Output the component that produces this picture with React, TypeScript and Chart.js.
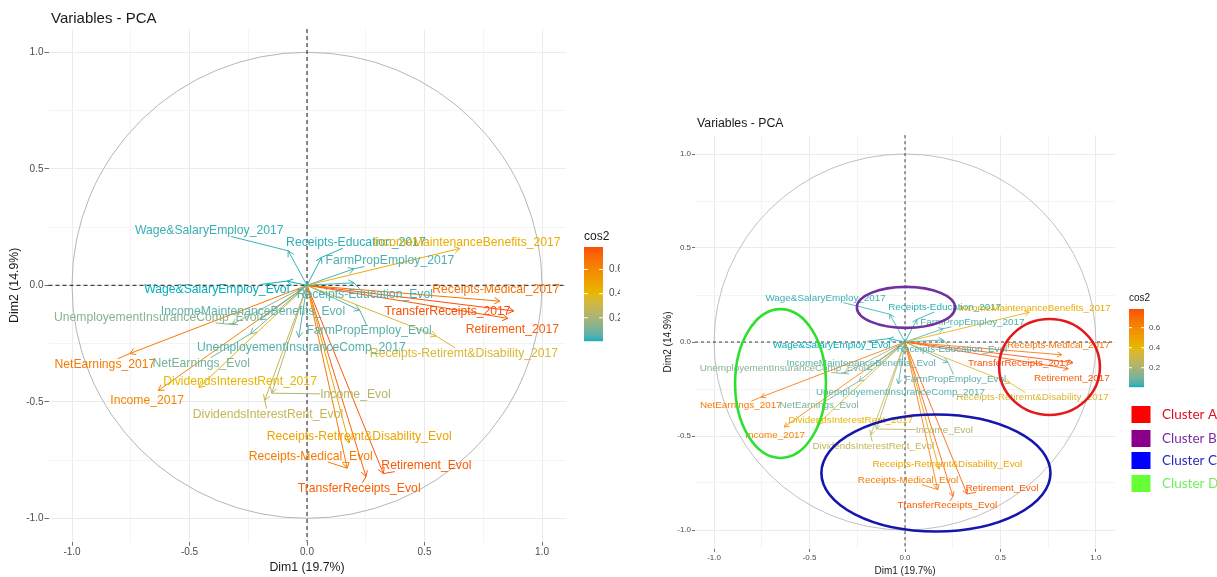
import { useEffect, useRef } from 'react';
import { Chart, registerables } from 'chart.js';

Chart.register(...registerables);

// Variable coordinates on the first two principal dimensions
const VARIABLES = [
  'Wage&SalaryEmploy_2017', 'Receipts-Education_2017', 'IncomeMaintenanceBenefits_2017', 'FarmPropEmploy_2017',
  'Wage&SalaryEmploy_Evol', 'Receipts-Education_Evol', 'Receipts-Medical_2017', 'TransferReceipts_2017',
  'Retirement_2017', 'Receipts-Retiremt&Disability_2017', 'FarmPropEmploy_Evol', 'IncomeMaintenanceBenefits_Evol',
  'UnemployementInsuranceComp_Evol', 'UnemployementInsuranceComp_2017', 'NetEarnings_2017', 'NetEarnings_Evol',
  'DividendsInterestRent_2017', 'Income_2017', 'Income_Evol', 'DividendsInterestRent_Evol',
  'Receipts-Retiremt&Disability_Evol', 'Receipts-Medical_Evol', 'Retirement_Evol', 'TransferReceipts_Evol',
];
const DIM1 = [-0.08, 0.062, 0.651, 0.2, -0.085, 0.2, 0.821, 0.88, 0.855, 0.55, 0.225, -0.2,
  -0.32, -0.035, -0.754, -0.24, -0.46, -0.633, -0.15, -0.18, 0.179, 0.171, 0.325, 0.251];
const DIM2 = [0.148, 0.12, 0.158, 0.071, 0.018, 0.011, -0.068, -0.11, -0.142, -0.218, -0.108, -0.148,
  -0.168, -0.223, -0.293, -0.208, -0.439, -0.452, -0.463, -0.494, -0.677, -0.785, -0.808, -0.821];

// Repelled label anchors (centre of each text), in the same units
const LABEL_DIM1 = [-0.416, 0.208, 0.68, 0.353, -0.384, 0.246, 0.804, 0.598, 0.874, 0.668, 0.264, -0.23,
  -0.64, -0.024, -0.86, -0.45, -0.285, -0.68, 0.206, -0.166, 0.222, 0.016, 0.508, 0.222];
const LABEL_DIM2 = [0.233, 0.183, 0.182, 0.104, -0.02, -0.038, -0.02, -0.113, -0.192, -0.292, -0.196, -0.114,
  -0.138, -0.266, -0.339, -0.335, -0.414, -0.495, -0.468, -0.553, -0.65, -0.735, -0.776, -0.871];

const AXIS_BREAKS = [-1, -0.75, -0.5, -0.25, 0, 0.25, 0.5, 0.75, 1];
const AXIS_MAJOR = [-1, -0.5, 0, 0.5, 1];
const COS2_BREAKS = [0.2, 0.4, 0.6];

const CLUSTERS = ['Cluster A', 'Cluster B', 'Cluster C', 'Cluster D'];
const CLUSTER_CENTER_DIM1 = [0.757, 0.005, 0.162, -0.652];
const CLUSTER_CENTER_DIM2 = [-0.133, 0.184, -0.697, -0.221];
const CLUSTER_HALF_DIM1 = [0.264, 0.257, 0.6, 0.238];
const CLUSTER_HALF_DIM2 = [0.255, 0.109, 0.311, 0.396];

const GRADIENT = ['#00AFBB', '#E7B800', '#FC4E07'];
const CLUSTER_LINE = ['#E31A1C', '#7030A0', '#1515B0', '#2EE02E'];
const CLUSTER_SWATCH = ['#FF0000', '#8B008B', '#0000FF', '#66FF33'];
const CLUSTER_TEXT = ['#E0102A', '#7A2DA6', '#2A2ABF', '#70F060'];

const FONT = '"Liberation Sans", Arial, sans-serif';

// ---- CIELAB colour ramp ----
type Lab = [number, number, number];
const toLin = (c: number) => { c /= 255; return c <= 0.04045 ? c / 12.92 : Math.pow((c + 0.055) / 1.055, 2.4); };
const fromLin = (c: number) => {
  const v = c <= 0.0031308 ? 12.92 * c : 1.055 * Math.pow(c, 1 / 2.4) - 0.055;
  return Math.round(Math.max(0, Math.min(1, v)) * 255);
};
function hexToLab(hex: string): Lab {
  const r = toLin(parseInt(hex.slice(1, 3), 16));
  const g = toLin(parseInt(hex.slice(3, 5), 16));
  const b = toLin(parseInt(hex.slice(5, 7), 16));
  const X = (0.4124564 * r + 0.3575761 * g + 0.1804375 * b) / 0.95047;
  const Y = 0.2126729 * r + 0.7151522 * g + 0.072175 * b;
  const Z = (0.0193339 * r + 0.119192 * g + 0.9503041 * b) / 1.08883;
  const f = (t: number) => (t > 0.008856 ? Math.cbrt(t) : 7.787 * t + 16 / 116);
  return [116 * f(Y) - 16, 500 * (f(X) - f(Y)), 200 * (f(Y) - f(Z))];
}
function labToRgb([L, a, bb]: Lab): string {
  const fy = (L + 16) / 116, fx = fy + a / 500, fz = fy - bb / 200;
  const inv = (t: number) => (t * t * t > 0.008856 ? t * t * t : (t - 16 / 116) / 7.787);
  const X = 0.95047 * inv(fx), Y = inv(fy), Z = 1.08883 * inv(fz);
  const r = 3.2404542 * X - 1.5371385 * Y - 0.4985314 * Z;
  const g = -0.969266 * X + 1.8760108 * Y + 0.041556 * Z;
  const b = 0.0556434 * X - 0.2040259 * Y + 1.0572252 * Z;
  return `rgb(${fromLin(r)},${fromLin(g)},${fromLin(b)})`;
}
const RAMP = GRADIENT.map(hexToLab);
function rampColor(t: number): string {
  t = Math.max(0, Math.min(1, t));
  const seg = t < 0.5 ? 0 : 1;
  const u = seg === 0 ? t / 0.5 : (t - 0.5) / 0.5;
  const A = RAMP[seg], B = RAMP[seg + 1];
  return labToRgb([A[0] + (B[0] - A[0]) * u, A[1] + (B[1] - A[1]) * u, A[2] + (B[2] - A[2]) * u]);
}

// ---- panel layouts ----
const LEFT = {
  canvasLeft: 0, width: 620, height: 577,
  area: { left: 48.5, right: 565.5, top: 29.0, bottom: 541.6 },
  labelFont: 12.2, tickFont: 10, axisTitleFont: 12.3, titleFont: 15,
  title: { x: 51, y: 18.5 }, xTitleY: 568, yTitleX: 15,
  lineW: 1, headLen: 6.5, zeroW: 1, dash: [4, 3], circleW: 1,
  tickLen: 4, tickPad: 1, minSeg: 7,
  bar: { x: 584, y: 247, w: 19, h: 94, titleY: 237, labelX: 609, titleFont: 12, labelFont: 10 },
  clusters: false,
  legend: { x: 0, ys: [0, 0, 0, 0], w: 0, h: 0, textX: 0, font: 0 },
};
const RIGHT = {
  canvasLeft: 620, width: 597, height: 577,
  area: { left: 695, right: 1115, top: 135.2, bottom: 548.8 },
  labelFont: 9.9, tickFont: 8, axisTitleFont: 10, titleFont: 12.3,
  title: { x: 697, y: 124 }, xTitleY: 571, yTitleX: 668,
  lineW: 0.85, headLen: 5.3, zeroW: 0.85, dash: [3, 3], circleW: 0.85,
  tickLen: 3, tickPad: 1, minSeg: 5.7,
  bar: { x: 1129, y: 309, w: 15, h: 78, titleY: 298, labelX: 1149, titleFont: 10, labelFont: 8 },
  clusters: true,
  legend: { x: 1131.5, ys: [406, 430, 452, 475], w: 19, h: 17, textX: 1162, font: 13.5 },
};
type Panel = typeof LEFT;

const isMajor = (v: number) => AXIS_MAJOR.some((m) => Math.abs(m - v) < 1e-9);

function makeConfig(P: Panel): any {
  const cos2 = DIM1.map((d, i) => d * d + DIM2[i] * DIM2[i]);
  const lo = Math.min(...cos2), hi = Math.max(...cos2);
  const colors = cos2.map((c) => rampColor((c - lo) / (hi - lo)));
  const off = P.canvasLeft;

  const datasets = VARIABLES.map((name, i) => ({
    label: name,
    data: [{ x: 0, y: 0 }, { x: DIM1[i], y: DIM2[i] }],
    showLine: true,
    borderColor: colors[i],
    backgroundColor: colors[i],
    borderWidth: P.lineW,
    pointRadius: 0,
    pointHoverRadius: 0,
    fill: false,
    tension: 0,
  }));

  const axis = (which: 'x' | 'y') => ({
    type: 'linear',
    min: -1.1,
    max: 1.1,
    afterBuildTicks: (s: any) => { s.ticks = AXIS_BREAKS.map((v) => ({ value: v })); },
    afterFit: (s: any) => {
      if (which === 'x') s.height = P.height - P.area.bottom;
      else s.width = P.area.left - off;
    },
    border: { display: false },
    grid: {
      color: (c: any) => (c.tick && isMajor(c.tick.value) ? '#EBEBEB' : '#F4F4F4'),
      lineWidth: 1,
      drawTicks: true,
      tickLength: P.tickLen,
      tickWidth: 1,
      tickColor: (c: any) => (c.tick && isMajor(c.tick.value) ? '#6E6E6E' : 'rgba(0,0,0,0)'),
    },
    ticks: {
      autoSkip: false,
      maxRotation: 0,
      minRotation: 0,
      padding: P.tickPad,
      color: '#4D4D4D',
      font: { family: FONT, size: P.tickFont },
      callback: (v: any) => (isMajor(Number(v)) ? Number(v).toFixed(1) : ''),
    },
  });

  const decor = {
    id: 'pcaDecor',
    beforeDatasetsDraw(chart: any) {
      const { ctx, chartArea: a, scales: { x, y } } = chart;
      ctx.save();
      const cx = x.getPixelForValue(0), cy = y.getPixelForValue(0);
      ctx.strokeStyle = '#B5B5B5';
      ctx.lineWidth = P.circleW;
      ctx.beginPath();
      ctx.ellipse(cx, cy, x.getPixelForValue(1) - cx, cy - y.getPixelForValue(1), 0, 0, Math.PI * 2);
      ctx.stroke();
      ctx.setLineDash(P.dash);
      ctx.strokeStyle = '#1A1A1A';
      ctx.lineWidth = P.zeroW;
      ctx.beginPath();
      ctx.moveTo(a.left, cy); ctx.lineTo(a.right, cy);
      ctx.moveTo(cx, a.top); ctx.lineTo(cx, a.bottom);
      ctx.stroke();
      ctx.restore();
    },
    afterDatasetsDraw(chart: any) {
      const { ctx, chartArea: a, scales: { x, y } } = chart;
      ctx.save();
      const ox = x.getPixelForValue(0), oy = y.getPixelForValue(0);

      // arrow heads
      ctx.lineWidth = P.lineW;
      VARIABLES.forEach((_, i) => {
        const px = x.getPixelForValue(DIM1[i]), py = y.getPixelForValue(DIM2[i]);
        const ang = Math.atan2(py - oy, px - ox);
        ctx.strokeStyle = colors[i];
        ctx.beginPath();
        ctx.moveTo(px - P.headLen * Math.cos(ang - Math.PI / 6), py - P.headLen * Math.sin(ang - Math.PI / 6));
        ctx.lineTo(px, py);
        ctx.lineTo(px - P.headLen * Math.cos(ang + Math.PI / 6), py - P.headLen * Math.sin(ang + Math.PI / 6));
        ctx.stroke();
      });

      // labels with connector segments
      ctx.font = `${P.labelFont}px ${FONT}`;
      ctx.textAlign = 'center';
      ctx.textBaseline = 'middle';
      VARIABLES.forEach((name, i) => {
        const lx = x.getPixelForValue(LABEL_DIM1[i]), ly = y.getPixelForValue(LABEL_DIM2[i]);
        const px = x.getPixelForValue(DIM1[i]), py = y.getPixelForValue(DIM2[i]);
        const hw = ctx.measureText(name).width / 2, hh = P.labelFont * 0.45;
        const dx = px - lx, dy = py - ly;
        if (Math.abs(dx) > hw || Math.abs(dy) > hh) {
          const t = Math.min(dx !== 0 ? hw / Math.abs(dx) : Infinity, dy !== 0 ? hh / Math.abs(dy) : Infinity);
          const sx = lx + dx * t, sy = ly + dy * t;
          if (Math.hypot(px - sx, py - sy) > P.minSeg) {
            ctx.strokeStyle = colors[i];
            ctx.lineWidth = P.lineW;
            ctx.beginPath(); ctx.moveTo(sx, sy); ctx.lineTo(px, py); ctx.stroke();
          }
        }
        ctx.fillStyle = colors[i];
        ctx.fillText(name, lx, ly);
      });

      // titles
      ctx.fillStyle = '#1A1A1A';
      ctx.textAlign = 'left';
      ctx.font = `${P.titleFont}px ${FONT}`;
      ctx.fillText('Variables - PCA', P.title.x - off, P.title.y);
      ctx.textAlign = 'center';
      ctx.font = `${P.axisTitleFont}px ${FONT}`;
      ctx.fillText('Dim1 (19.7%)', (a.left + a.right) / 2, P.xTitleY);
      ctx.save();
      ctx.translate(P.yTitleX - off, (a.top + a.bottom) / 2);
      ctx.rotate(-Math.PI / 2);
      ctx.fillText('Dim2 (14.9%)', 0, 0);
      ctx.restore();

      // cos2 colour bar
      const B = P.bar;
      const bx = B.x - off;
      for (let k = 0; k < B.h; k++) {
        const v = hi - ((k + 0.5) / B.h) * (hi - lo);
        ctx.fillStyle = rampColor((v - lo) / (hi - lo));
        ctx.fillRect(bx, B.y + k, B.w, 1.2);
      }
      ctx.strokeStyle = '#FFFFFF';
      ctx.lineWidth = 1;
      ctx.font = `${B.labelFont}px ${FONT}`;
      ctx.textAlign = 'left';
      COS2_BREAKS.forEach((v) => {
        const ty = B.y + ((hi - v) / (hi - lo)) * B.h;
        ctx.beginPath();
        ctx.moveTo(bx, ty); ctx.lineTo(bx + B.w / 5, ty);
        ctx.moveTo(bx + B.w - B.w / 5, ty); ctx.lineTo(bx + B.w, ty);
        ctx.stroke();
        ctx.fillStyle = '#4D4D4D';
        ctx.fillText(v.toFixed(1), B.labelX - off, ty);
      });
      ctx.fillStyle = '#1A1A1A';
      ctx.font = `${B.titleFont}px ${FONT}`;
      ctx.fillText('cos2', bx, B.titleY);

      if (P.clusters) {
        // cluster outlines
        ctx.lineWidth = 2.6;
        CLUSTERS.forEach((_, i) => {
          const ex = x.getPixelForValue(CLUSTER_CENTER_DIM1[i]);
          const ey = y.getPixelForValue(CLUSTER_CENTER_DIM2[i]);
          const rx = x.getPixelForValue(CLUSTER_CENTER_DIM1[i] + CLUSTER_HALF_DIM1[i]) - ex;
          const ry = ey - y.getPixelForValue(CLUSTER_CENTER_DIM2[i] + CLUSTER_HALF_DIM2[i]);
          ctx.strokeStyle = CLUSTER_LINE[i];
          ctx.beginPath();
          ctx.ellipse(ex, ey, rx, ry, 0, 0, Math.PI * 2);
          ctx.stroke();
        });
        // cluster key
        const L = P.legend;
        ctx.font = `${L.font}px Lato, "Open Sans", sans-serif`;
        ctx.textAlign = 'left';
        CLUSTERS.forEach((name, i) => {
          ctx.fillStyle = CLUSTER_SWATCH[i];
          ctx.fillRect(L.x - off, L.ys[i], L.w, L.h);
          ctx.fillStyle = CLUSTER_TEXT[i];
          ctx.fillText(name, L.textX - off, L.ys[i] + L.h / 2);
        });
      }
      ctx.restore();
    },
  };

  return {
    type: 'scatter',
    data: { datasets },
    options: {
      responsive: false,
      maintainAspectRatio: false,
      animation: false,
      events: [],
      layout: {
        padding: { left: 0, top: P.area.top, right: P.width - (P.area.right - off), bottom: 0 },
      },
      plugins: { legend: { display: false }, tooltip: { enabled: false }, title: { display: false } },
      scales: { x: axis('x'), y: axis('y') },
    },
    plugins: [decor],
  };
}

export default function App() {
  const leftRef = useRef<HTMLCanvasElement>(null);
  const rightRef = useRef<HTMLCanvasElement>(null);

  useEffect(() => {
    const charts = [
      new Chart(leftRef.current as HTMLCanvasElement, makeConfig(LEFT)),
      new Chart(rightRef.current as HTMLCanvasElement, makeConfig(RIGHT)),
    ];
    return () => charts.forEach((c) => c.destroy());
  }, []);

  return (
    <div style={{ position: 'absolute', left: 0, top: 0, width: 1217, height: 577, background: '#FFFFFF', overflow: 'hidden' }}>
      <canvas ref={leftRef} width={LEFT.width} height={LEFT.height} style={{ position: 'absolute', left: 0, top: 0 }} />
      <canvas ref={rightRef} width={RIGHT.width} height={RIGHT.height} style={{ position: 'absolute', left: RIGHT.canvasLeft, top: 0 }} />
    </div>
  );
}
